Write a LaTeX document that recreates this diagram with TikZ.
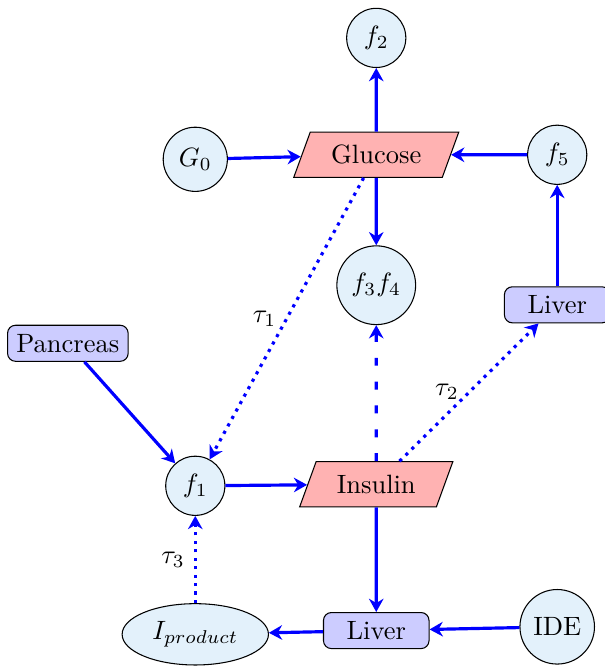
\documentclass[tikz,border=0pt]{standalone}
\usetikzlibrary{shapes.geometric,arrows.meta}
\definecolor{circfill}{RGB}{227,241,251}

\begin{document}
\begin{tikzpicture}[
  varnode/.style={circle, draw=black, fill=circfill},
  qtynode/.style={trapezium, trapezium left angle=70, trapezium right angle=110,
    draw=black, fill=red!30, minimum height=0.6cm},
  organ/.style={rectangle, rounded corners=3pt, draw=black, fill=blue!20, minimum width=1.4cm},
  flow/.style={-{Stealth[length=5pt,width=5.5pt]}, very thick, blue},
  delay/.style={flow, dotted},
  effect/.style={flow, loosely dashed}]
\useasboundingbox (0,0) rectangle (8.011,8.833);

% top row
\node[varnode] (ftwo) at (4.99,8.33) {$f_2$};
\node[qtynode] (glucose) at (4.99,6.78) {Glucose};
\node[varnode] (gzero) at (2.59,6.72) {$G_0$};
\node[varnode] (ffive) at (7.39,6.78) {$f_5$};
\node[varnode] (fthreefour) at (4.99,5.05) {$f_3f_4$};

% middle
\node[organ] (liverright) at (7.39,4.79) {Liver};
\node[organ] (pancreas) at (0.90,4.28) {Pancreas};
\node[varnode] (fone) at (2.59,2.39) {$f_1$};
\node[qtynode] (insulin) at (4.99,2.41) {Insulin};

% bottom row
\node[ellipse, draw=black, fill=circfill] (iproduct) at (2.59,0.42) {$I_{product}$};
\node[organ] (liverbottom) at (4.99,0.47) {Liver};
\node[varnode] (ide) at (7.39,0.52) {IDE};

\draw[flow] (glucose) -- (ftwo);
\draw[flow] (gzero) -- (glucose);
\draw[flow] (ffive) -- (glucose);
\draw[flow] (glucose) -- (fthreefour);
\draw[flow] (liverright) -- (ffive);
\draw[flow] (pancreas) -- (fone);
\draw[flow] (fone) -- (insulin);
\draw[flow] (insulin) -- (liverbottom);
\draw[flow] (liverbottom) -- (iproduct);
\draw[flow] (ide) -- (liverbottom);
\draw[effect] (insulin) -- (fthreefour);
\draw[delay] (glucose) -- node[left, black] {$\tau_1$} (fone);
\draw[delay] (insulin) -- node[left, black] {$\tau_2$} (liverright);
\draw[delay] (iproduct) -- node[left, black] {$\tau_3$} (fone);
\end{tikzpicture}
\end{document}
